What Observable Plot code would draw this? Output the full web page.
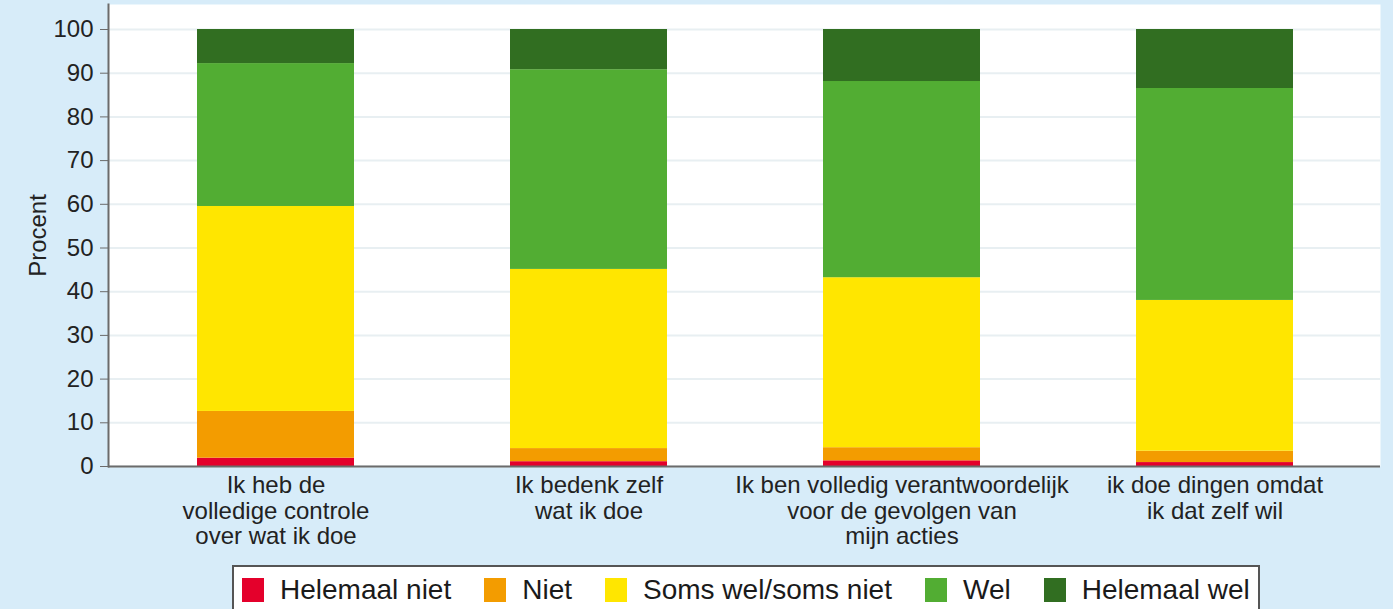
<!DOCTYPE html>
<html>
<head>
<meta charset="utf-8">
<script src="https://cdn.jsdelivr.net/npm/d3@7"></script>
<script src="https://cdn.jsdelivr.net/npm/@observablehq/plot@0.6"></script>
<style>
  html, body { margin: 0; padding: 0; background: #d7ecf9; width: 1393px; height: 609px; overflow: hidden; font-family: "Liberation Sans", Arial, sans-serif; }
  #chart svg { display: block; }
  #legend { margin-left: 232px; margin-top: 5px; display: inline-flex; align-items: center; background: #fff; border: 2px solid #555; height: 50px; padding: 0 8px 0 8px; box-sizing: border-box; }
  .item { display: flex; align-items: center; margin-right: 33px; font-size: 28px; color: #1a1a1a; white-space: nowrap; }
  .item:last-child { margin-right: 0; }
  .sw { width: 22px; height: 24px; margin-right: 16px; }
</style>
</head>
<body>
<div id="chart"></div>
<div id="legend"></div>
<script>
const items = [
  "Ik heb de\nvolledige controle\nover wat ik doe",
  "Ik bedenk zelf\nwat ik doe",
  "Ik ben volledig verantwoordelijk\nvoor de gevolgen van\nmijn acties",
  "ik doe dingen omdat\nik dat zelf wil"
];
const categories = ["Helemaal niet", "Niet", "Soms wel/soms niet", "Wel", "Helemaal wel"];
const colors = ["#e4002b", "#f39c00", "#ffe600", "#52ad33", "#316e21"];
const helemaalNiet = [1.9, 1.1, 1.3, 0.9];
const niet = [10.7, 3.0, 3.0, 2.6];
const somsWel = [46.9, 41.0, 38.9, 34.5];
const wel = [32.7, 45.7, 44.9, 48.5];
const helemaalWel = [7.8, 9.2, 11.9, 13.5];
const yTicks = [0, 10, 20, 30, 40, 50, 60, 70, 80, 90, 100];

const series = [helemaalNiet, niet, somsWel, wel, helemaalWel];
const data = [];
categories.forEach((c, ci) => items.forEach((it, i) => data.push({item: it, cat: c, value: series[ci][i]})));

const chart = Plot.plot({
  width: 1393,
  height: 560,
  marginLeft: 108,
  marginRight: 13,
  marginTop: 4,
  marginBottom: 94,
  style: { background: "transparent", fontFamily: "'Liberation Sans', Arial, sans-serif", fontSize: "24px", color: "#222" },
  x: { domain: items, paddingInner: 0.5, paddingOuter: 0.25, insetLeft: 9, insetRight: 8, label: null },
  y: { domain: [0, 100], insetTop: 25, label: null },
  color: { domain: categories, range: colors },
  marks: [
    Plot.frame({ fill: "white", stroke: null }),
    Plot.gridY(yTicks, { stroke: "#e8eff2", strokeOpacity: 1, strokeWidth: 2 }),
    Plot.barY(data, { x: "item", y: "value", fill: "cat", order: categories }),
    Plot.ruleY([0], { stroke: "#6b6b6b", strokeWidth: 2 }),
    Plot.frame({ anchor: "left", stroke: "#6b6b6b", strokeWidth: 2 }),
    Plot.axisY(yTicks, { tickSize: 8, tickPadding: 7, stroke: "#6b6b6b", fill: "#222", fontSize: 24, label: "Procent", labelAnchor: "center", labelOffset: 80, labelArrow: "none" }),
    Plot.axisX({ tickSize: 0, tickPadding: 9, fill: "#222", fontSize: 24, lineHeight: 1.05, label: null })
  ]
});
document.getElementById("chart").appendChild(chart);

const legend = document.getElementById("legend");
categories.forEach((c, i) => {
  const d = document.createElement("div");
  d.className = "item";
  const s = document.createElement("span");
  s.className = "sw";
  s.style.background = colors[i];
  d.appendChild(s);
  d.appendChild(document.createTextNode(c));
  legend.appendChild(d);
});
</script>
</body>
</html>
